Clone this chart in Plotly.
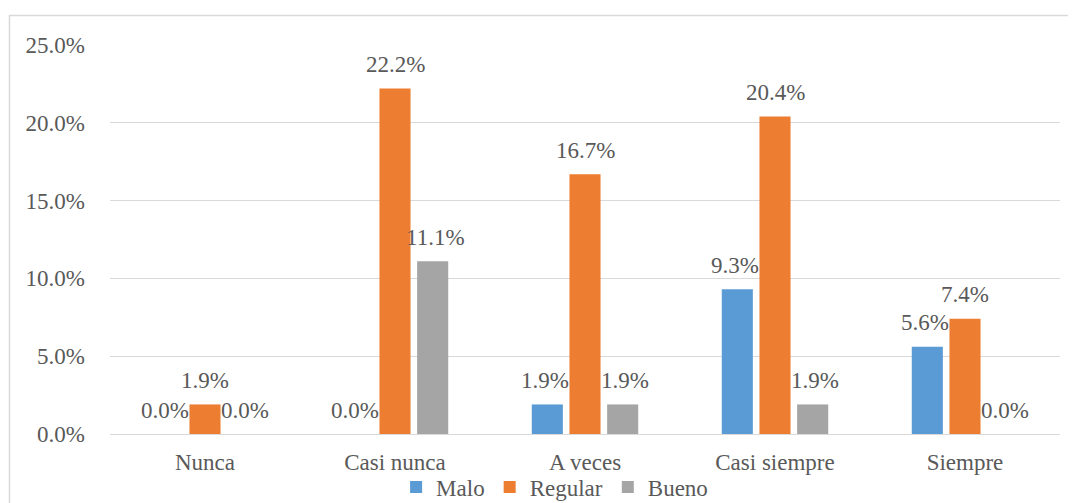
import plotly.graph_objects as go

categories = ["Nunca", "Casi nunca", "A veces", "Casi siempre", "Siempre"]
malo = [0.0, 0.0, 1.9, 9.3, 5.6]
regular = [1.9, 22.2, 16.7, 20.4, 7.4]
bueno = [0.0, 11.1, 1.9, 1.9, 0.0]
y_ticks = [0, 5, 10, 15, 20, 25]
y_tick_labels = ["0.0%", "5.0%", "10.0%", "15.0%", "20.0%", "25.0%"]

FONT = "Liberation Serif, Times New Roman, serif"
TXT = "#595959"
FS = 23

series = [("Malo", malo, "#5B9BD5"), ("Regular", regular, "#ED7D31"), ("Bueno", bueno, "#A5A5A5")]

fig = go.Figure()
for name, vals, col in series:
    fig.add_trace(go.Bar(x=categories, y=vals, name=name, marker_color=col,
                         marker_line_width=0))

annotations = []
shifts = [-40, 0, 40]
for (name, vals, col), sh in zip(series, shifts):
    for c, v in zip(categories, vals):
        annotations.append(dict(x=c, y=v, xref="x", yref="y", text=f"{v:.1f}%",
                                showarrow=False, xshift=sh, yshift=24,
                                yanchor="middle", xanchor="center",
                                font=dict(family=FONT, size=FS, color=TXT)))

fig.update_layout(
    width=1068, height=495,
    margin=dict(l=102, r=16, t=37, b=69, autoexpand=False),
    paper_bgcolor="white", plot_bgcolor="white",
    barmode="group", bargap=0.405, bargroupgap=0.175,
    font=dict(family=FONT, size=FS, color=TXT),
    showlegend=True,
    legend=dict(orientation="h", x=0.468, xanchor="center", yref="container",
                y=0.032, yanchor="middle", bgcolor="rgba(0,0,0,0)",
                font=dict(family=FONT, size=FS, color=TXT), itemwidth=30,
                tracegroupgap=0),
    annotations=annotations,
    shapes=[dict(type="rect", xref="paper", yref="paper", x0=-0.1058, x1=1.05,
                 y0=-0.4, y1=1.0758, line=dict(color="#D9D9D9", width=1.5),
                 fillcolor="rgba(0,0,0,0)", layer="below")],
)
fig.update_xaxes(showline=False, ticks="", tickfont=dict(family=FONT, size=FS, color=TXT),
                 showgrid=False, automargin=False, ticklabelstandoff=12)
fig.update_yaxes(range=[0, 25], tickvals=y_ticks, ticktext=y_tick_labels,
                 showgrid=True, gridcolor="#D9D9D9", gridwidth=1,
                 zeroline=True, zerolinecolor="#D9D9D9", zerolinewidth=1,
                 showline=False, ticks="", ticklabelstandoff=24, automargin=False,
                 tickfont=dict(family=FONT, size=FS, color=TXT))

fig.write_html("out.html")
